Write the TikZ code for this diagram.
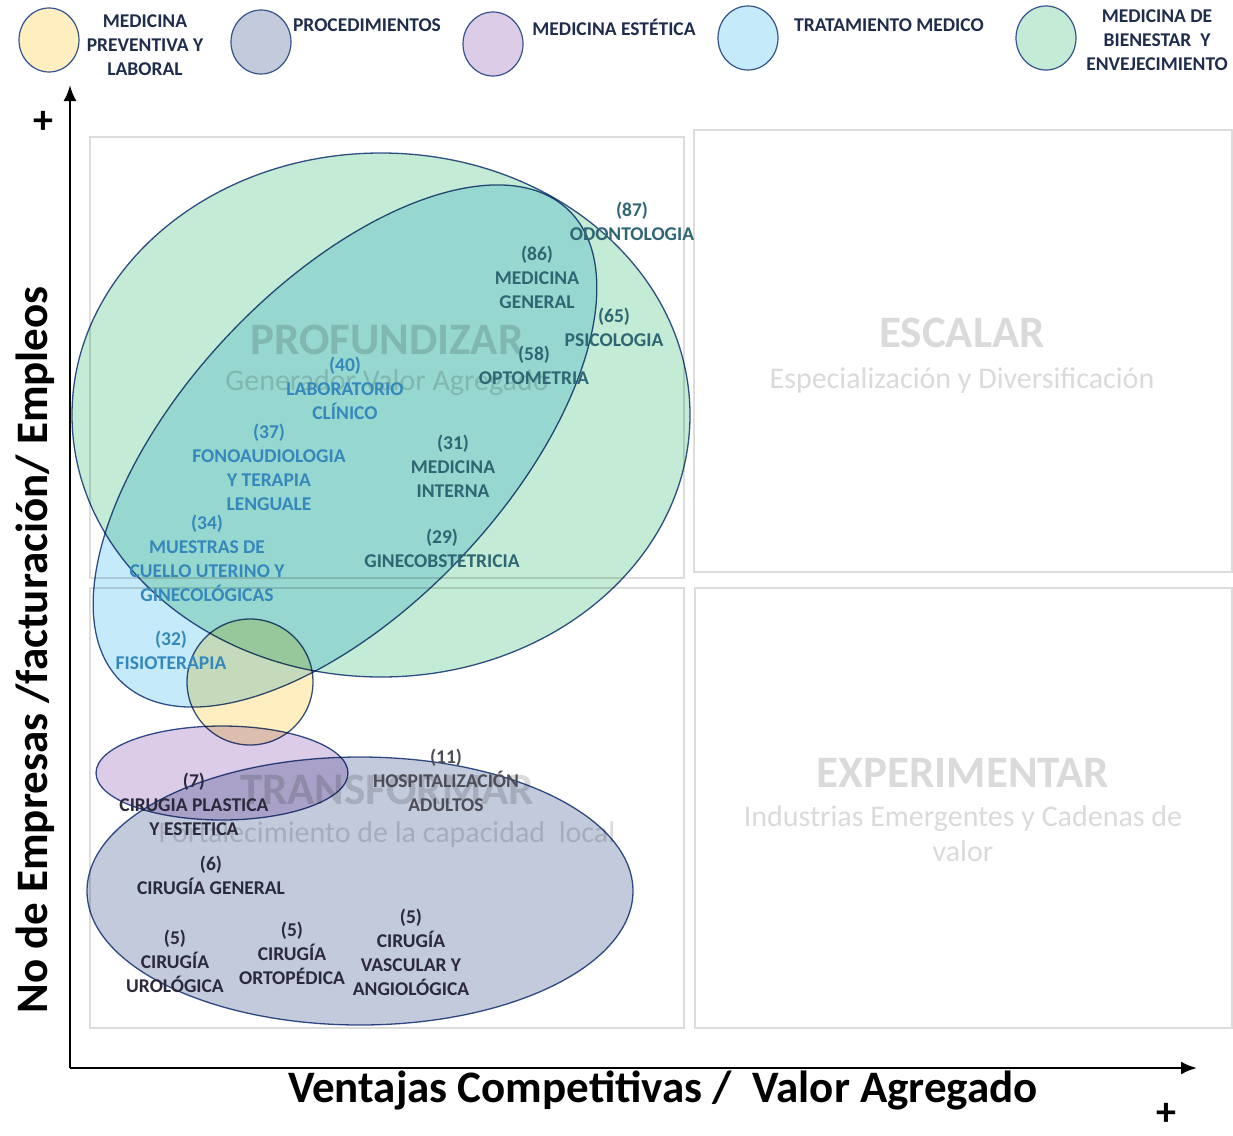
\documentclass[tikz,border=0pt]{standalone}
\usepackage{fontspec}
\setmainfont{Carlito}
\usetikzlibrary{shapes.geometric}
\usetikzlibrary{positioning}
\usetikzlibrary{arrows.meta}

\definecolor{cprev}{HTML}{FFEEC0}
\definecolor{cproc}{HTML}{C3CADB}
\definecolor{cest}{HTML}{DDCCE8}
\definecolor{ctrat}{HTML}{C5EAF9}
\definecolor{cbien}{HTML}{C3EBD5}
\definecolor{edge}{HTML}{35528F}
\definecolor{quad}{HTML}{DCDCDC}
\definecolor{qtext}{HTML}{DADADA}
\definecolor{tblue}{HTML}{3588BC}
\definecolor{tdark}{HTML}{2E6673}
\definecolor{thosp}{HTML}{4D4D58}
\definecolor{tproc}{HTML}{2A2A3C}
\definecolor{tleg}{HTML}{1F2D4D}

\begin{document}
\begin{tikzpicture}[x=1pt, y=-1pt,
    lbl/.style={font=\fontsize{19.5}{24}\selectfont\bfseries, align=center, inner sep=0pt},
    legtxt/.style={lbl, text=tleg},
    legcirc/.style={ellipse, draw=edge, line width=1.2pt, minimum width=60pt, minimum height=64pt, inner sep=0pt},
    quadbox/.style={draw=quad, line width=1.5pt},
    qtitle/.style={text=qtext, font=\fontsize{45}{48}\selectfont\bfseries},
    qsub/.style={text=qtext, font=\fontsize{30}{35}\selectfont, align=center},
    blob/.style={draw=edge, line width=1.3pt},
    axis/.style={line width=2.5pt, -{Latex[length=16pt,width=13pt]}}]
            \useasboundingbox (0,0) rectangle (1233,1135);

            % Legend
            \node[legcirc, fill=cprev] (prevc) at (49,40) {};
            \node[legcirc, fill=cproc] (procc) at (261,42) {};
            \node[legcirc, fill=cest] (estc) at (493,44) {};
            \node[legcirc, fill=ctrat] (tratc) at (748,38) {};
            \node[legcirc, fill=cbien] (bienc) at (1046,38) {};
            \node[legtxt] (prevt) at (145,45) {MEDICINA\\PREVENTIVA Y\\LABORAL};
            \node[legtxt] (proct) at (367,25) {PROCEDIMIENTOS};
            \node[legtxt] (estt) at (614,27) {MEDICINA ESTÉTICA};
            \node[legtxt] (tratt) at (889,25) {TRATAMIENTO MEDICO};
            \node[legtxt] (bient) at (1157,40) {MEDICINA DE\\BIENESTAR\ \ Y\\ENVEJECIMIENTO};

            % Quadrants
            \draw[quadbox] (90,137) rectangle (684,578);
            \draw[quadbox] (694,130) rectangle (1232,572);
            \draw[quadbox] (90,588) rectangle (684,1028);
            \draw[quadbox] (695,588) rectangle (1232,1028);
            \node[qtitle] (profq) at (387,340) {PROFUNDIZAR};
            \node[qsub] (profs) at (387,383) {Generador Valor Agregado};
            \node[qtitle] (escq) at (962,333) {ESCALAR};
            \node[qsub] (escs) at (962,380) {Especialización y Diversificación};
            \node[qtitle] (transq) at (387,790) {TRANSFORMAR};
            \node[qsub] (transs) at (387,834) {Fortalecimiento de la capacidad\ \ local};
            \node[qtitle] (expq) at (963,773) {EXPERIMENTAR};
            \node[qsub] (exps) at (963,834) {Industrias Emergentes y Cadenas de\\valor};

            % Groups
            \begin{scope}[blend mode=multiply]
            \draw[blob, fill=cbien] (381,415) ellipse [x radius=309, y radius=262];
            \draw[blob, fill=ctrat, rotate around={46.7:(345,446)}] (345,446) ellipse [x radius=325, y radius=161];
            \draw[blob, fill=cprev] (250,682) circle [radius=63];
            \draw[blob, fill=cest] (222,773) ellipse [x radius=126, y radius=47];
            \draw[blob, fill=cproc] (360,891) ellipse [x radius=273, y radius=134];
            \end{scope}

            % Activities
            \node[lbl, text=tdark] (odont) at (632,221) {(87)\\ODONTOLOGIA};
            \node[lbl, text=tdark] (medgen) at (537,277) {(86)\\MEDICINA\\GENERAL};
            \node[lbl, text=tdark] (psico) at (614,327) {(65)\\PSICOLOGIA};
            \node[lbl, text=tdark] (opto) at (534,365) {(58)\\OPTOMETRIA};
            \node[lbl, text=tblue] (lab) at (345,388) {(40)\\LABORATORIO\\CLÍNICO};
            \node[lbl, text=tblue] (fono) at (269,467) {(37)\\FONOAUDIOLOGIA\\Y TERAPIA\\LENGUALE};
            \node[lbl, text=tdark] (medint) at (453,466) {(31)\\MEDICINA\\INTERNA};
            \node[lbl, text=tblue] (muestras) at (207,558) {(34)\\MUESTRAS DE\\CUELLO UTERINO Y\\GINECOLÓGICAS};
            \node[lbl, text=tdark] (gineco) at (442,548) {(29)\\GINECOBSTETRICIA};
            \node[lbl, text=tblue] (fisio) at (171,650) {(32)\\FISIOTERAPIA};
            \node[lbl, text=thosp] (hosp) at (446,780) {(11)\\HOSPITALIZACIÓN\\ADULTOS};
            \node[lbl, text=tproc] (plast) at (194,804) {(7)\\CIRUGIA PLASTICA\\Y ESTETICA};
            \node[lbl, text=tproc] (cirgen) at (211,875) {(6)\\CIRUGÍA GENERAL};
            \node[lbl, text=tproc] (urolog) at (175,961) {(5)\\CIRUGÍA\\UROLÓGICA};
            \node[lbl, text=tproc] (orto) at (292,953) {(5)\\CIRUGÍA\\ORTOPÉDICA};
            \node[lbl, text=tproc] (vasc) at (411,952) {(5)\\CIRUGÍA\\VASCULAR Y\\ANGIOLÓGICA};

            % Axes
            \coordinate (origin) at (70,1068);
            \coordinate (ytop) at (70,85);
            \coordinate (xend) at (1197,1068);
            \draw[axis] (origin) -- (ytop);
            \draw[axis] (origin) -- (xend);
            \node[font=\fontsize{40}{40}\selectfont\bfseries] (yplus) at (43,122) {+};
            \node[font=\fontsize{40}{40}\selectfont\bfseries] (xplus) at (1166,1114) {+};
            \node[font=\fontsize{45}{48}\selectfont\bfseries] (xlab) at (663,1090) {Ventajas Competitivas /\ \ Valor Agregado};
            \node[font=\fontsize{45}{48}\selectfont\bfseries, rotate=90] (ylab) at (35,650) {No de Empresas /facturación/ Empleos};
        \end{tikzpicture}
\end{document}
